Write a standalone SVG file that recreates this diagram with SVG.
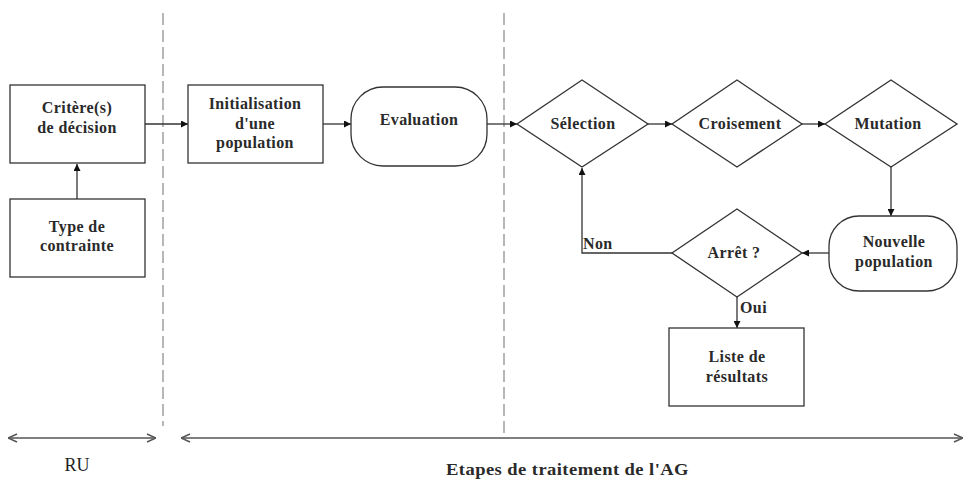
<svg xmlns="http://www.w3.org/2000/svg" width="966" height="479" viewBox="0 0 966 479">
<style>
.box{fill:#fff;stroke:#333;stroke-width:1.3}
.lbl{font-family:"Liberation Serif",serif;font-weight:bold;font-size:16px;letter-spacing:0.4px;fill:#2a2a2a;text-anchor:middle}
.lft{text-anchor:start}
.con{fill:none;stroke:#333;stroke-width:1.3}
.dash{fill:none;stroke:#888;stroke-width:1.2;stroke-dasharray:12 5}
.span{fill:none;stroke:#555;stroke-width:1.5}
.bot{font-family:"Liberation Serif",serif;font-size:18px;fill:#222;text-anchor:middle}
</style>
<defs>
<marker id="ah" viewBox="0 0 10 10" refX="10" refY="5" markerWidth="7" markerHeight="7" markerUnits="userSpaceOnUse" orient="auto">
<path d="M0,0 L10,5 L0,10 z" fill="#111"/>
</marker>
<marker id="open" viewBox="0 0 10 10" refX="10" refY="5" markerWidth="10" markerHeight="10" markerUnits="userSpaceOnUse" orient="auto-start-reverse">
<path d="M1,1 L10,5 L1,9" fill="none" stroke="#555" stroke-width="1.5"/>
</marker>
</defs>
<rect width="966" height="479" fill="#fff"/>
<g id="separators">
<line class="dash" x1="163" y1="13" x2="163" y2="426"/>
<line class="dash" x1="504" y1="13" x2="504" y2="435"/>
<line class="span" x1="8" y1="438" x2="156" y2="438" marker-start="url(#open)" marker-end="url(#open)"/>
<line class="span" x1="181" y1="438" x2="963" y2="438" marker-start="url(#open)" marker-end="url(#open)"/>
<text class="bot" x="77" y="471">RU</text>
<text class="lbl lft" x="446" y="475" textLength="243" lengthAdjust="spacingAndGlyphs" style="font-size:17px">Etapes de traitement de l'AG</text>
</g>
<g id="connectors">
<line class="con" x1="77" y1="199" x2="77" y2="164" marker-end="url(#ah)"/>
<line class="con" x1="145" y1="124" x2="188" y2="124" marker-end="url(#ah)"/>
<line class="con" x1="323" y1="124" x2="351" y2="124" marker-end="url(#ah)"/>
<line class="con" x1="487" y1="124" x2="517" y2="124" marker-end="url(#ah)"/>
<line class="con" x1="648" y1="124" x2="672" y2="124" marker-end="url(#ah)"/>
<line class="con" x1="802" y1="124" x2="825" y2="124" marker-end="url(#ah)"/>
<line class="con" x1="891" y1="167" x2="891" y2="216" marker-end="url(#ah)"/>
<line class="con" x1="829" y1="253" x2="802" y2="253" marker-end="url(#ah)"/>
<polyline class="con" points="672,253 582,253 582,168" marker-end="url(#ah)"/>
<line class="con" x1="737" y1="297" x2="737" y2="328" marker-end="url(#ah)"/>
<text class="lbl lft" x="583" y="249">Non</text>
<text class="lbl lft" x="740" y="313">Oui</text>
</g>
<g id="critere">
<rect class="box" x="10" y="85" width="135" height="78"/>
<text class="lbl" x="77" y="113">Critère(s)</text>
<text class="lbl" x="77" y="133">de décision</text>
</g>
<g id="contrainte">
<rect class="box" x="10" y="199" width="135" height="78"/>
<text class="lbl" x="77" y="232">Type de</text>
<text class="lbl" x="77" y="251">contrainte</text>
</g>
<g id="init">
<rect class="box" x="188" y="85" width="135" height="78"/>
<text class="lbl" x="255" y="109">Initialisation</text>
<text class="lbl" x="255" y="129">d'une</text>
<text class="lbl" x="255" y="148">population</text>
</g>
<g id="evaluation">
<rect class="box" x="351" y="87" width="136" height="79" rx="32" ry="32"/>
<text class="lbl" x="419" y="125">Evaluation</text>
</g>
<g id="selection">
<polygon class="box" points="582,80 648,124 582,167 517,124"/>
<text class="lbl" x="583" y="129">Sélection</text>
</g>
<g id="croisement">
<polygon class="box" points="737,80 802,124 737,167 672,124"/>
<text class="lbl" x="740" y="129">Croisement</text>
</g>
<g id="mutation">
<polygon class="box" points="891,80 957,124 891,167 825,124"/>
<text class="lbl" x="888" y="129">Mutation</text>
</g>
<g id="nouvelle">
<rect class="box" x="829" y="216" width="128" height="75" rx="30" ry="30"/>
<text class="lbl" x="894" y="247">Nouvelle</text>
<text class="lbl" x="894" y="267">population</text>
</g>
<g id="arret">
<polygon class="box" points="737,209 802,253 737,297 672,253"/>
<text class="lbl" x="734" y="258">Arrêt ?</text>
</g>
<g id="liste">
<rect class="box" x="669" y="328" width="135" height="78"/>
<text class="lbl" x="737" y="362">Liste de</text>
<text class="lbl" x="737" y="382">résultats</text>
</g>
</svg>
